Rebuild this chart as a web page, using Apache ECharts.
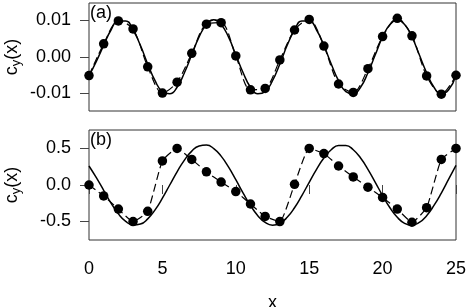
<!DOCTYPE html>
<html>
<head>
<meta charset="utf-8">
<script src="https://cdn.jsdelivr.net/npm/echarts@6/dist/echarts.min.js"></script>
<style>html,body{margin:0;padding:0;background:#fff}#c{width:467px;height:307px}</style>
</head>
<body>
<div id="c"></div>
<script>
// ---- data ----
var xPoints = [0,1,2,3,4,5,6,7,8,9,10,11,12,13,14,15,16,17,18,19,20,21,22,23,24,25];
var dotsA = [-0.0051,0.0036,0.0099,0.0077,-0.0027,-0.0099,-0.0069,0.0010,0.0090,0.0094,0.0003,-0.0090,-0.0086,-0.0008,0.0074,0.0103,0.0030,-0.0074,-0.0097,-0.0032,0.0056,0.0106,0.0058,-0.0052,-0.0102,-0.0050];
var dotsB = [0.00,-0.15,-0.33,-0.50,-0.36,0.33,0.50,0.35,0.18,0.04,-0.09,-0.26,-0.43,-0.50,0.01,0.50,0.43,0.26,0.11,-0.03,-0.17,-0.33,-0.51,-0.31,0.35,0.50];
var xFine = [0,0.5,1,1.5,2,2.5,3,3.5,4,4.5,5,5.5,6,6.5,7,7.5,8,8.5,9,9.5,10,10.5,11,11.5,12,12.5,13,13.5,14,14.5,15,15.5,16,16.5,17,17.5,18,18.5,19,19.5,20,20.5,21,21.5,22,22.5,23,23.5,24,24.5,25];
var curveA = [-0.0052,-0.0012,0.0032,0.0074,0.0099,0.0099,0.0074,0.0032,-0.0019,-0.0065,-0.0095,-0.0101,-0.0083,-0.0043,0.0006,0.0055,0.0089,0.0102,0.0089,0.0055,0.0006,-0.0043,-0.0083,-0.0101,-0.0095,
              -0.0065,-0.0019,0.0032,0.0074,0.0099,0.0099,0.0074,0.0032,-0.0019,-0.0065,-0.0095,-0.0101,-0.0083,-0.0043,0.0006,0.0055,0.0089,0.0102,0.0089,0.0055,0.0006,-0.0043,-0.0083,-0.0101,-0.0090,-0.0050];
var curveB = [0.260,0.100,-0.073,-0.248,-0.395,-0.499,-0.547,-0.535,-0.464,-0.341,-0.180,0.000,0.180,0.341,0.464,0.535,0.547,0.499,0.395,0.248,0.073,-0.110,-0.280,-0.420,-0.513,-0.550,-0.525,-0.443,-0.312,-0.145,0.037,0.215,0.369,0.482,0.542,0.542,0.482,0.369,0.215,0.037,-0.145,-0.312,-0.443,-0.525,-0.550,-0.513,-0.420,-0.280,-0.110,0.080,0.270];
var xTicks = [0,5,10,15,20,25];
var yTicksA = [-0.01,0,0.01];
var yTicksB = [-0.5,0,0.5];
var panelLabels = ['(a)','(b)'];

function pairs(xs, ys){ return xs.map(function(x,i){ return [x, ys[i]]; }); }

var FONT = 'Liberation Sans, Arial, Helvetica, sans-serif';
var FS = 18;
var BOX = '#333';
var nameRich = {
  c: {fontSize: FS, fontFamily: FONT, color: '#000', lineHeight: 22},
  s: {fontSize: 13, fontFamily: FONT, color: '#000', verticalAlign: 'bottom', lineHeight: 22}
};

function yAxis(idx, min, max, ticks, dec){
  return {
    type: 'value', gridIndex: idx, min: min, max: max,
    axisLine: {show: false},
    splitLine: {show: false},
    axisTick: {show: true, length: 9, customValues: ticks, lineStyle: {color: '#444', width: 1}},
    axisLabel: {show: true, customValues: ticks, margin: 18, fontSize: FS, fontFamily: FONT, color: '#000',
      formatter: function(v){ return (Math.abs(v) < 1e-12 ? 0 : v).toFixed(dec); }},
    name: '{c|c}{s|y}{c|(x)}', nameLocation: 'middle', nameRotate: 90, nameGap: 66,
    nameMoveOverlap: false,
    nameTextStyle: {rich: nameRich}
  };
}

var option = {
  animation: false,
  backgroundColor: '#fff',
  grid: [
    {left: 89, top: 3, width: 367, height: 108, show: true, borderColor: BOX, borderWidth: 1, backgroundColor: 'transparent', outerBoundsMode: 'none', containLabel: false},
    {left: 89, top: 130, width: 367, height: 110, show: true, borderColor: BOX, borderWidth: 1, backgroundColor: 'transparent', outerBoundsMode: 'none', containLabel: false}
  ],
  xAxis: [
    {type: 'value', gridIndex: 0, min: 0, max: 25, interval: 5,
     axisLine: {show: false}, axisTick: {show: false}, axisLabel: {show: false}, splitLine: {show: false}},
    {type: 'value', gridIndex: 1, min: 0, max: 25, interval: 5,
     axisLine: {show: false}, splitLine: {show: false},
     axisTick: {show: true, length: 9, customValues: xTicks, lineStyle: {color: '#444', width: 1}},
     axisLabel: {show: true, customValues: xTicks, margin: 20, fontSize: FS, fontFamily: FONT, color: '#000'},
     name: 'x', nameLocation: 'middle', nameGap: 54, nameMoveOverlap: false,
     nameTextStyle: {fontSize: FS, fontFamily: FONT, color: '#000'}}
  ],
  yAxis: [
    yAxis(0, -0.0148, 0.0148, yTicksA, 2),
    yAxis(1, -0.753, 0.753, yTicksB, 1)
  ],
  graphic: [
    {type: 'text', left: 90, top: 4, style: {text: panelLabels[0], fontSize: FS, fontFamily: FONT, fill: '#000'}},
    {type: 'text', left: 90, top: 131, style: {text: panelLabels[1], fontSize: FS, fontFamily: FONT, fill: '#000'}}
  ],
  series: [
    {type: 'line', xAxisIndex: 0, yAxisIndex: 0, data: pairs(xFine, curveA), smooth: true, showSymbol: false,
     lineStyle: {color: '#000', width: 1.5}, z: 2},
    {type: 'line', xAxisIndex: 0, yAxisIndex: 0, data: pairs(xPoints, dotsA), smooth: 0.3, symbol: 'circle', symbolSize: 9.5,
     itemStyle: {color: '#000'}, lineStyle: {color: '#000', width: 1.2, type: [8, 4]}, z: 3},
    {type: 'line', xAxisIndex: 1, yAxisIndex: 1, data: pairs(xFine, curveB), smooth: true, showSymbol: false,
     lineStyle: {color: '#000', width: 1.5}, z: 2},
    {type: 'line', xAxisIndex: 1, yAxisIndex: 1, data: pairs(xPoints, dotsB), smooth: 0.15, symbol: 'circle', symbolSize: 9.5,
     itemStyle: {color: '#000'}, lineStyle: {color: '#000', width: 1.2, type: [8, 4]}, z: 3}
  ]
};
var chart = echarts.init(document.getElementById('c'), null, {renderer: 'canvas'});
chart.setOption(option);
</script>
</body>
</html>
